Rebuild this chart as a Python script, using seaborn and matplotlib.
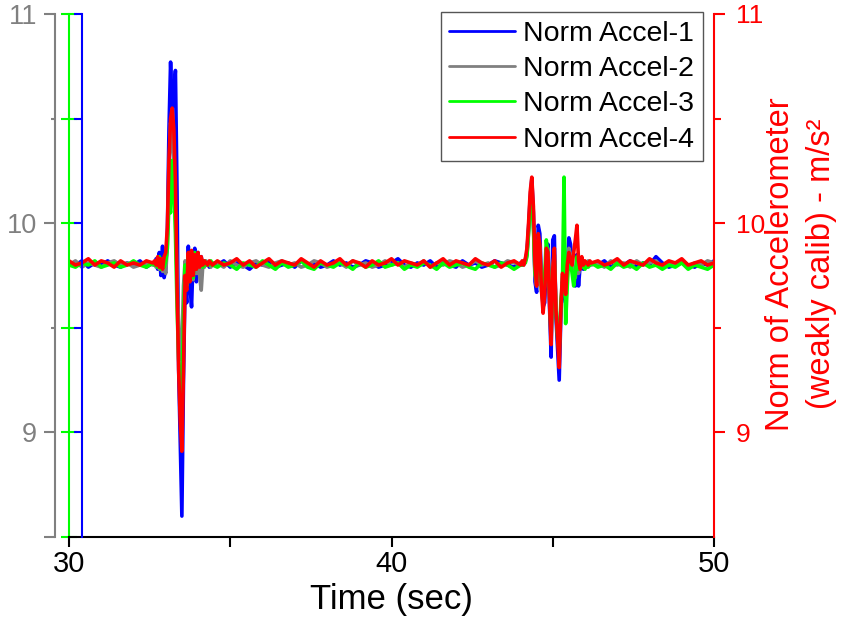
import numpy as np
import pandas as pd
import matplotlib
matplotlib.use("Agg")
import matplotlib.pyplot as plt
from matplotlib.ticker import FixedLocator, MultipleLocator
import seaborn as sns

# ---------------- data ----------------
series_names = ["Norm Accel-1", "Norm Accel-2", "Norm Accel-3", "Norm Accel-4"]
series_colors = ["#0000FF", "#808080", "#00FF00", "#FF0000"]

# time segments (start, end) of the sampled recording
seg_bounds = [(30.0, 32.6), (32.65, 34.45), (34.6, 44.0), (44.05, 46.2), (46.4, 50.0)]

acc1_pre = [9.81, 9.80, 9.82, 9.79, 9.81, 9.80, 9.82, 9.80, 9.79, 9.81, 9.80, 9.82, 9.79, 9.81]
acc2_pre = [9.80, 9.82, 9.79, 9.81, 9.80, 9.79, 9.81, 9.82, 9.80, 9.81, 9.79, 9.80, 9.81, 9.80]
acc3_pre = [9.80, 9.79, 9.81, 9.80, 9.82, 9.79, 9.80, 9.81, 9.79, 9.80, 9.82, 9.80, 9.79, 9.81]
acc4_pre = [9.82, 9.80, 9.81, 9.83, 9.80, 9.82, 9.81, 9.79, 9.82, 9.80, 9.81, 9.80, 9.82, 9.81]

acc1_ev1 = [9.80, 9.83, 9.78, 9.86, 9.75, 9.89, 9.74, 9.78, 9.95, 10.45,
            10.77, 10.55, 10.62, 10.73, 10.15, 9.30, 8.95, 8.60, 9.25, 9.72,
            9.62, 9.89, 9.70, 9.60, 9.84, 9.88, 9.72, 9.86, 9.78, 9.84,
            9.79, 9.82, 9.80, 9.81, 9.79, 9.81, 9.80]
acc2_ev1 = [9.81, 9.79, 9.83, 9.78, 9.82, 9.77, 9.80, 9.76, 9.90, 10.25,
            10.48, 10.40, 10.30, 10.05, 9.75, 9.50, 9.35, 9.42, 9.70, 9.82,
            9.72, 9.85, 9.74, 9.86, 9.73, 9.84, 9.76, 9.83, 9.75, 9.68,
            9.80, 9.79, 9.82, 9.80, 9.81, 9.79, 9.81]
acc3_ev1 = [9.80, 9.82, 9.79, 9.84, 9.78, 9.83, 9.79, 9.82, 9.88, 10.10,
            10.05, 10.30, 10.20, 9.95, 9.60, 9.35, 9.20, 9.12, 9.55, 9.80,
            9.70, 9.84, 9.76, 9.85, 9.74, 9.86, 9.78, 9.84, 9.80, 9.83,
            9.79, 9.82, 9.80, 9.81, 9.80, 9.82, 9.80]
acc4_ev1 = [9.82, 9.80, 9.84, 9.79, 9.83, 9.78, 9.84, 9.86, 9.98, 10.30,
            10.50, 10.55, 10.45, 10.20, 9.70, 9.30, 9.05, 8.91, 9.30, 9.75,
            9.68, 9.86, 9.72, 9.87, 9.75, 9.85, 9.78, 9.86, 9.79, 9.84,
            9.80, 9.82, 9.81, 9.80, 9.82, 9.81, 9.80]

acc1_mid = [9.80, 9.82, 9.79, 9.81, 9.80, 9.78, 9.81, 9.80, 9.82, 9.79,
            9.80, 9.81, 9.79, 9.82, 9.80, 9.81, 9.79, 9.80, 9.82, 9.80,
            9.81, 9.79, 9.80, 9.82, 9.81, 9.79, 9.80, 9.81, 9.83, 9.80,
            9.79, 9.81, 9.80, 9.82, 9.79, 9.81, 9.80, 9.79, 9.82, 9.80,
            9.81, 9.79, 9.80, 9.82, 9.81, 9.80, 9.79, 9.81]
acc2_mid = [9.81, 9.79, 9.82, 9.80, 9.79, 9.81, 9.82, 9.80, 9.79, 9.81,
            9.82, 9.80, 9.81, 9.79, 9.80, 9.82, 9.81, 9.79, 9.80, 9.81,
            9.79, 9.82, 9.80, 9.81, 9.79, 9.80, 9.82, 9.80, 9.81, 9.79,
            9.81, 9.80, 9.82, 9.79, 9.81, 9.80, 9.82, 9.81, 9.79, 9.80,
            9.82, 9.80, 9.81, 9.79, 9.80, 9.82, 9.81, 9.80]
acc3_mid = [9.79, 9.81, 9.80, 9.78, 9.81, 9.80, 9.79, 9.82, 9.80, 9.78,
            9.81, 9.79, 9.80, 9.82, 9.79, 9.78, 9.81, 9.80, 9.79, 9.81,
            9.80, 9.78, 9.81, 9.79, 9.80, 9.82, 9.79, 9.80, 9.81, 9.78,
            9.80, 9.79, 9.81, 9.80, 9.78, 9.81, 9.79, 9.80, 9.81, 9.79,
            9.78, 9.81, 9.80, 9.79, 9.81, 9.80, 9.78, 9.80]
acc4_mid = [9.82, 9.80, 9.81, 9.83, 9.80, 9.82, 9.79, 9.81, 9.83, 9.80,
            9.82, 9.81, 9.80, 9.83, 9.81, 9.79, 9.82, 9.80, 9.81, 9.83,
            9.80, 9.82, 9.81, 9.79, 9.82, 9.80, 9.81, 9.83, 9.80, 9.82,
            9.81, 9.80, 9.82, 9.79, 9.81, 9.83, 9.80, 9.82, 9.81, 9.80,
            9.83, 9.81, 9.80, 9.82, 9.79, 9.81, 9.82, 9.80]

acc1_ev2 = [9.80, 9.81, 9.82, 9.86, 9.98, 10.12, 10.21, 10.05, 9.72, 9.67,
            9.99, 9.95, 9.72, 9.60, 9.62, 9.83, 9.90, 9.60, 9.36, 9.92,
            9.94, 9.55, 9.40, 9.25, 9.55, 9.72, 9.68, 9.62, 9.78, 9.93,
            9.90, 9.78, 9.75, 9.70, 9.85, 9.70, 9.80, 9.82, 9.78, 9.80,
            9.79, 9.81, 9.80, 9.81]
acc2_ev2 = [9.81, 9.80, 9.83, 9.85, 9.95, 10.08, 10.15, 10.00, 9.75, 9.70,
            9.92, 9.88, 9.70, 9.65, 9.70, 9.85, 9.88, 9.68, 9.50, 9.80,
            9.85, 9.60, 9.48, 9.42, 9.60, 9.75, 9.80, 9.70, 9.78, 9.88,
            9.85, 9.80, 9.78, 9.74, 9.82, 9.76, 9.82, 9.80, 9.79, 9.81,
            9.80, 9.82, 9.81, 9.80]
acc3_ev2 = [9.80, 9.82, 9.81, 9.84, 9.96, 10.08, 10.12, 9.98, 9.76, 9.72,
            9.90, 9.86, 9.68, 9.62, 9.75, 9.92, 9.85, 9.65, 9.45, 9.75,
            9.82, 9.58, 9.45, 9.38, 9.62, 9.70, 10.22, 9.52, 9.70, 9.85,
            9.82, 9.76, 9.70, 9.76, 9.84, 9.78, 9.81, 9.79, 9.80, 9.78,
            9.81, 9.79, 9.80, 9.81]
acc4_ev2 = [9.82, 9.80, 9.83, 9.88, 10.00, 10.15, 10.22, 10.08, 9.80, 9.70,
            9.95, 9.90, 9.68, 9.57, 9.66, 9.88, 9.86, 9.62, 9.42, 9.78,
            9.88, 9.58, 9.45, 9.31, 9.58, 9.76, 9.74, 9.66, 9.80, 9.86,
            9.82, 9.80, 9.86, 9.92, 9.99, 9.82, 9.78, 9.84, 9.80, 9.82,
            9.81, 9.80, 9.82, 9.81]

acc1_post = [9.80, 9.82, 9.79, 9.81, 9.80, 9.82, 9.79, 9.81, 9.80, 9.84, 9.81, 9.79, 9.80, 9.82, 9.80, 9.79, 9.81, 9.80, 9.82]
acc2_post = [9.81, 9.79, 9.82, 9.80, 9.81, 9.79, 9.82, 9.80, 9.81, 9.82, 9.79, 9.81, 9.80, 9.82, 9.79, 9.81, 9.80, 9.82, 9.81]
acc3_post = [9.79, 9.80, 9.78, 9.81, 9.79, 9.80, 9.78, 9.81, 9.79, 9.80, 9.78, 9.80, 9.79, 9.81, 9.78, 9.80, 9.79, 9.78, 9.80]
acc4_post = [9.82, 9.80, 9.81, 9.83, 9.80, 9.82, 9.81, 9.80, 9.83, 9.81, 9.80, 9.82, 9.81, 9.83, 9.80, 9.81, 9.82, 9.80, 9.81]

x_major = [30, 40, 50]
x_minor = [35, 45]
y_major = [9, 10, 11]
y_labels = ["9", "10", "11"]
y_lim = (8.5, 11.0)
x_lim = (30, 50)

series_segments = [
    [acc1_pre, acc1_ev1, acc1_mid, acc1_ev2, acc1_post],
    [acc2_pre, acc2_ev1, acc2_mid, acc2_ev2, acc2_post],
    [acc3_pre, acc3_ev1, acc3_mid, acc3_ev2, acc3_post],
    [acc4_pre, acc4_ev1, acc4_mid, acc4_ev2, acc4_post],
]

rows = []
for name, segs in zip(series_names, series_segments):
    for (t0, t1), vals in zip(seg_bounds, segs):
        tt = np.linspace(t0, t1, len(vals))
        for ti, v in zip(tt, vals):
            rows.append((name, ti, v))
df = pd.DataFrame(rows, columns=["Series", "Time", "Norm"])

# ---------------- style ----------------
sns.set_style("ticks")
plt.rcParams["font.family"] = ["Liberation Sans", "DejaVu Sans"]
plt.rcParams["text.color"] = "black"
plt.rcParams["axes.labelcolor"] = "black"
plt.rcParams["xtick.color"] = "black"
plt.rcParams["ytick.color"] = "black"

GRAY = "#808080"
GREEN = "#00FF00"
BLUE = "#0000FF"
RED = "#FF0000"

fig = plt.figure(figsize=(8.5, 6.28), dpi=100)
ax = fig.add_axes([69 / 850, 1 - 537 / 628, 645 / 850, 523 / 628])

sns.lineplot(data=df, x="Time", y="Norm", hue="Series", hue_order=series_names,
             palette=series_colors, estimator=None, sort=False, lw=2.6, ax=ax)

ax.set_xlim(*x_lim)
ax.set_ylim(*y_lim)

for s in ["top", "right"]:
    ax.spines[s].set_visible(False)
ax.spines["bottom"].set_color("black")
ax.spines["bottom"].set_linewidth(1.5)
ax.spines["left"].set_color(GREEN)
ax.spines["left"].set_linewidth(1.5)

ax.xaxis.set_major_locator(FixedLocator(x_major))
ax.xaxis.set_minor_locator(FixedLocator(x_minor))
ax.tick_params(axis="x", which="both", direction="out", length=7, width=1.5,
               color="black", labelcolor="black", labelsize=21, pad=2, bottom=True)
ax.set_xlabel("Time (sec)", fontsize=25, labelpad=4, color="black")

ax.yaxis.set_major_locator(FixedLocator(y_major))
ax.yaxis.set_minor_locator(MultipleLocator(0.5))
ax.tick_params(axis="y", which="both", direction="inout", length=12, width=1.5,
               color=GREEN, labelleft=False, left=True)
ax.set_ylabel("")

# gray offset axis (left, with labels)
ax_g = ax.twinx()
ax_g.set_ylim(*y_lim)
for s in ["top", "right", "bottom"]:
    ax_g.spines[s].set_visible(False)
ax_g.spines["left"].set_visible(True)
ax_g.spines["left"].set_position(("outward", 10))
ax_g.spines["left"].set_color(GRAY)
ax_g.spines["left"].set_linewidth(1.5)
ax_g.yaxis.tick_left()
ax_g.yaxis.set_label_position("left")
ax_g.yaxis.set_major_locator(FixedLocator([8.5] + y_major))
ax_g.set_yticklabels([""] + y_labels)
ax_g.yaxis.set_minor_locator(FixedLocator([9.5, 10.5]))
ax_g.tick_params(axis="y", which="major", direction="out", length=8, width=1.5,
                 color=GRAY, labelcolor=GRAY, labelsize=19.5, pad=5)
ax_g.tick_params(axis="y", which="minor", direction="out", length=3, width=1.5, color=GRAY)

# blue axis (slightly inside)
ax_b = ax.twinx()
ax_b.set_ylim(*y_lim)
for s in ["top", "right", "bottom"]:
    ax_b.spines[s].set_visible(False)
ax_b.spines["left"].set_visible(True)
ax_b.spines["left"].set_position(("axes", 13 / 645))
ax_b.spines["left"].set_color(BLUE)
ax_b.spines["left"].set_linewidth(1.5)
ax_b.yaxis.tick_left()
ax_b.yaxis.set_major_locator(FixedLocator(y_major))
ax_b.yaxis.set_minor_locator(FixedLocator([9.5, 10.5]))
ax_b.tick_params(axis="y", which="both", direction="out", length=6, width=1.5,
                 color=BLUE, labelleft=False)

# red right axis
ax_r = ax.twinx()
ax_r.set_ylim(*y_lim)
for s in ["top", "left", "bottom"]:
    ax_r.spines[s].set_visible(False)
ax_r.spines["right"].set_visible(True)
ax_r.spines["right"].set_color(RED)
ax_r.spines["right"].set_linewidth(1.5)
ax_r.yaxis.set_major_locator(FixedLocator(y_major))
ax_r.set_yticklabels(y_labels)
ax_r.yaxis.set_minor_locator(FixedLocator([9.5, 10.5]))
ax_r.tick_params(axis="y", which="major", direction="out", length=8, width=1.5,
                 color=RED, labelcolor=RED, labelsize=19, pad=8)
ax_r.tick_params(axis="y", which="minor", direction="out", length=5, width=1.5, color=RED)
ax_r.set_ylabel("Norm of Accelerometer\n(weakly calib) - m/s²", color=RED,
                fontsize=23.5, labelpad=0, linespacing=1.4)
ax_r.yaxis.label.set_y(0.522)

# legend
leg = ax.legend(loc="upper right", bbox_to_anchor=(703 / 850, 1 - 12 / 628),
                bbox_transform=fig.transFigure, borderaxespad=0, fontsize=20.5,
                handlelength=2.3, handletextpad=0.3, labelspacing=0.33,
                borderpad=0.3, fancybox=False, framealpha=1, edgecolor="#555555",
                title=None)
leg.get_frame().set_linewidth(1.0)
for line in leg.get_lines():
    line.set_linewidth(2.0)
for txt in leg.get_texts():
    txt.set_color("black")
leg.set_zorder(10)

fig.savefig("out.png", dpi=100)
